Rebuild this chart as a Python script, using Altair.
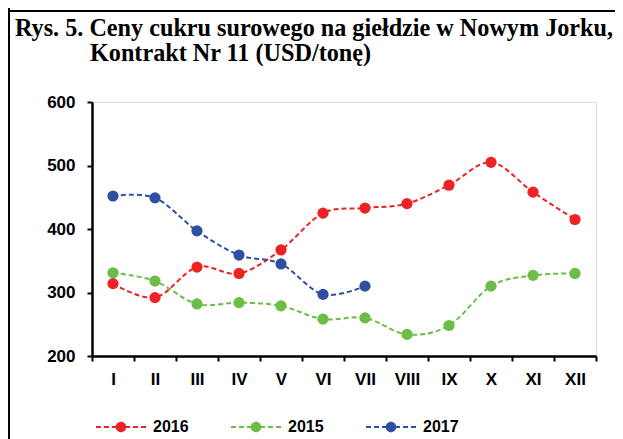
import json
import altair as alt
import pandas as pd

months = ["I", "II", "III", "IV", "V", "VI", "VII", "VIII", "IX", "X", "XI", "XII"]
s2016 = [314, 292, 340, 330, 367, 425, 433, 440, 469, 505, 458, 415]
s2015 = [331, 318, 282, 284, 279, 258, 260, 234, 248, 310, 327, 330]
s2017 = [452, 449, 397, 359, 345, 297, 310]
series_names = ["2016", "2015", "2017"]
series_colors = ["#ED2224", "#6CBD45", "#2E4FA2"]
title1 = "Rys. 5. Ceny cukru surowego na giełdzie w Nowym Jorku,"
title2 = "Kontrakt Nr 11 (USD/tonę)"

rows = []
for name, vals in [("2015", s2015), ("2016", s2016), ("2017", s2017)]:
    for i, v in enumerate(vals):
        rows.append({"m": i + 1, "v": v, "s": name})
df = pd.DataFrame(rows)

W, H = 504, 254
PL, PT = 84, 94

# legend symbol: dashed line with a dot, built from filled shapes (unit box -1..1)
dash_segments = [(-1, -0.8), (-0.68, -0.48), (-0.36, -0.2), (0.2, 0.36), (0.48, 0.68), (0.8, 1)]
legend_path = "".join(f"M{a},-0.04H{b}V0.04H{a}Z" for a, b in dash_segments)
legend_path += "M0.21,0A0.21,0.21,0,1,1,-0.21,0A0.21,0.21,0,1,1,0.21,0Z"

month_js = json.dumps(months)
x_enc = alt.X(
    "m:Q",
    scale=alt.Scale(domain=[0.5, 12.5], nice=False, zero=False),
    axis=alt.Axis(
        title=None, grid=False,
        values=[i * 0.5 + 0.5 for i in range(25)],
        tickOpacity={"condition": {"test": "datum.value % 1 != 0", "value": 1}, "value": 0},
        labelExpr=f"datum.value % 1 == 0 ? {month_js}[datum.value - 1] : ''",
        labelOverlap=False, labelBound=False, labelFlush=False,
        domainColor="black", domainWidth=2.5, tickColor="black", tickWidth=2, tickSize=5,
        labelFont="Liberation Sans", labelFontWeight="bold", labelFontSize=17,
        labelColor="black", labelPadding=10,
    ),
)
y_enc = alt.Y(
    "v:Q",
    scale=alt.Scale(domain=[200, 600], nice=False, zero=False),
    axis=alt.Axis(
        title=None, values=[200, 300, 400, 500, 600], grid=False,
        domainColor="black", domainWidth=2.5, tickColor="black", tickWidth=2, tickSize=5,
        labelFont="Liberation Sans", labelFontWeight="bold", labelFontSize=17,
        labelColor="black", labelPadding=12,
    ),
)

base = alt.Chart(df)
line_layers = []
for name, col in zip(series_names, series_colors):
    line_layers.append(
        base.transform_filter(alt.datum.s == name).mark_line(
            interpolate="cardinal", strokeDash=[5, 3], strokeWidth=2, color=col
        ).encode(x=x_enc, y=y_enc)
    )

points = base.mark_circle(size=125, opacity=1).encode(
    x=x_enc, y=y_enc,
    color=alt.Color("s:N", scale=alt.Scale(domain=series_names, range=series_colors),
                    legend=alt.Legend(
        title=None, orient="none", direction="horizontal", legendX=4, legendY=300,
        symbolType=legend_path, symbolSize=2500, symbolStrokeWidth=0, symbolOpacity=1,
        labelFont="Liberation Sans", labelFontWeight="bold", labelFontSize=16,
        labelColor="black", labelOffset=7, columnPadding=42,
    )),
)

tdf1 = pd.DataFrame({"t": [title1]})
tdf2 = pd.DataFrame({"t": [title2]})
tstyle = dict(align="left", baseline="alphabetic", font="Liberation Serif",
              fontWeight="bold", fontSize=24.2, color="black")
t1 = alt.Chart(tdf1).mark_text(**tstyle).encode(text="t:N", x=alt.value(-77), y=alt.value(-66))
t2 = alt.Chart(tdf2).mark_text(**tstyle).encode(text="t:N", x=alt.value(-2), y=alt.value(-41))

fdf = pd.DataFrame({"k": ["frame"]})
top_rule = alt.Chart(fdf).mark_rule(color="black", strokeWidth=2).encode(
    x=alt.value(-84), x2=alt.value(531), y=alt.value(-91)
)
left_rule = alt.Chart(fdf).mark_rule(color="black", strokeWidth=2).encode(
    x=alt.value(-83), y=alt.value(-94), y2=alt.value(337)
)

chart = alt.layer(top_rule, left_rule, t1, t2, *line_layers, points).properties(
    width=W, height=H,
    autosize=alt.AutoSizeParams(type="none"),
    padding={"left": PL, "top": PT, "right": 19, "bottom": 83},
).configure_view(stroke=None).configure(background="white")

chart.save("out.html", embed_options={"renderer": "svg", "actions": False})
